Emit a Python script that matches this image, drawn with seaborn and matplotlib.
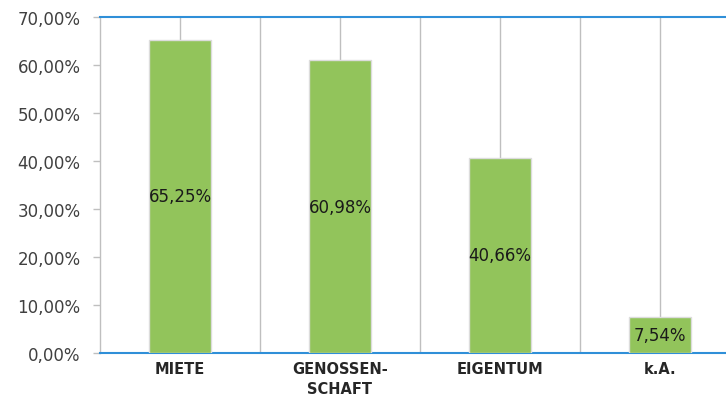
import matplotlib
matplotlib.use("Agg")
import matplotlib.pyplot as plt
from matplotlib.ticker import FixedLocator, FuncFormatter, MultipleLocator
import seaborn as sns
import pandas as pd

categories = ["MIETE", "GENOSSEN-\nSCHAFT", "EIGENTUM", "k.A."]
shares = [65.25, 60.98, 40.66, 7.54]

df = pd.DataFrame({"Wohnform": categories, "Anteil": shares})

sns.set_theme(style="white")
plt.rcParams["font.family"] = ["DejaVu Sans"]

fig = plt.figure(figsize=(7.26, 4.02), dpi=100)
W, H = 726, 402
# the last category column runs past the right edge of the figure
ax = fig.add_axes([100 / W, 48 / H, 640 / W, 336 / H])

sns.barplot(data=df, x="Wohnform", y="Anteil", color="#92c45b", width=0.39,
            edgecolor="#dcdcdc", linewidth=1.0, saturation=1, ax=ax, zorder=3)

ax.set_xlim(-0.5, 3.5)
ax.set_ylim(0, 70)
ax.yaxis.set_major_locator(MultipleLocator(10))
ax.yaxis.set_major_formatter(FuncFormatter(lambda v, p: f"{v:.2f}%".replace(".", ",")))

# vertical grid through bar centres and at category boundaries
ax.xaxis.set_minor_locator(FixedLocator([0.5, 1.5, 2.5]))
ax.grid(axis="x", which="both", color="#bfbfbf", linewidth=1.0, zorder=0)
ax.grid(axis="y", visible=False)

for side in ("top", "bottom"):
    ax.spines[side].set_color("#2f8fd8")
    ax.spines[side].set_linewidth(1.5)
ax.spines["left"].set_color("#bfbfbf")
ax.spines["left"].set_linewidth(1.0)
ax.spines["right"].set_visible(False)

ax.tick_params(axis="y", which="major", left=True, length=5, width=1,
               color="#bfbfbf", labelsize=12, labelcolor="#404040", pad=9)
ax.tick_params(axis="x", which="both", bottom=False, length=0, pad=6)
for lab in ax.get_xticklabels():
    lab.set_fontweight("bold")
    lab.set_fontsize(10.5)
    lab.set_color("#262626")
    lab.set_linespacing(1.4)

ax.set_xlabel("")
ax.set_ylabel("")

ax.bar_label(ax.containers[0], labels=[f"{v:.2f}%".replace(".", ",") for v in shares],
             label_type="center", fontsize=12, color="#1a1a1a", zorder=4)

fig.savefig("out.png", dpi=100)
